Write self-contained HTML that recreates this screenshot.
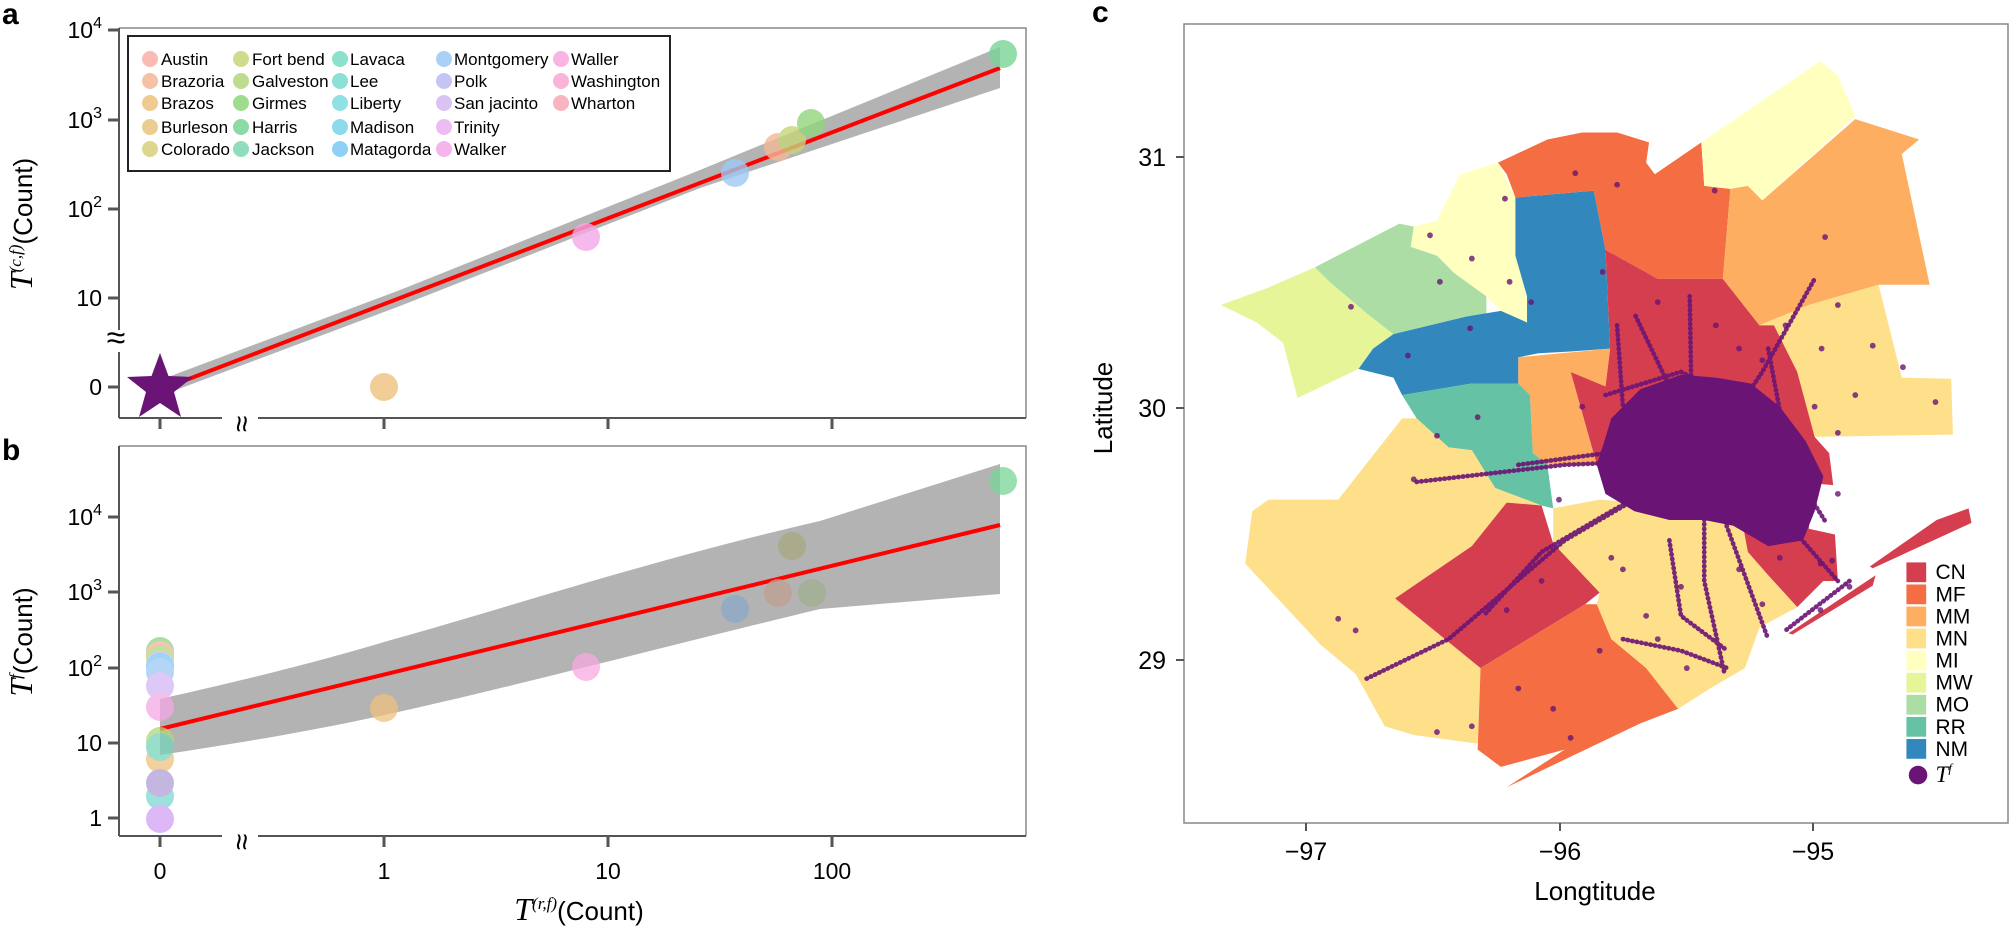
<!DOCTYPE html>
<html><head><meta charset="utf-8"><style>
html,body{margin:0;padding:0;background:#fff;}
svg{display:block;font-family:"Liberation Sans",Arial,sans-serif;}
</style></head><body>
<svg width="2011" height="930" viewBox="0 0 2011 930" xmlns="http://www.w3.org/2000/svg">
<!-- ============ PANEL A ============ -->
<text x="2" y="24" font-size="30" font-weight="bold">a</text>
<polyline points="119,28 1026,28 1026,418" fill="none" stroke="#888" stroke-width="1.5"/>
<line x1="119" y1="28" x2="119" y2="330" stroke="#555" stroke-width="2"/>
<line x1="119" y1="352" x2="119" y2="418" stroke="#555" stroke-width="2"/>
<line x1="119" y1="418" x2="222" y2="418" stroke="#555" stroke-width="2"/>
<line x1="258" y1="418" x2="1026" y2="418" stroke="#555" stroke-width="2"/>
<g stroke="#555" stroke-width="3">
<line x1="108" y1="30" x2="119" y2="30"/><line x1="108" y1="120" x2="119" y2="120"/>
<line x1="108" y1="209" x2="119" y2="209"/><line x1="108" y1="298" x2="119" y2="298"/>
<line x1="108" y1="387" x2="119" y2="387"/>
<line x1="160" y1="418" x2="160" y2="429"/><line x1="384" y1="418" x2="384" y2="429"/>
<line x1="608" y1="418" x2="608" y2="429"/><line x1="832" y1="418" x2="832" y2="429"/>
</g>
<g font-size="23" text-anchor="end">
<text x="102" y="38">10<tspan font-size="16" dy="-10">4</tspan></text>
<text x="102" y="128">10<tspan font-size="16" dy="-10">3</tspan></text>
<text x="102" y="217">10<tspan font-size="16" dy="-10">2</tspan></text>
<text x="102" y="306">10</text>
<text x="102" y="395">0</text>
</g>
<text x="116" y="349" font-size="34" text-anchor="middle">≈</text>
<text x="240" y="432" font-size="30" text-anchor="middle" transform="rotate(90 240 424)">≈</text>
<text transform="translate(32 224) rotate(-90)" font-size="26" text-anchor="middle"><tspan font-family="Liberation Serif" font-style="italic" font-size="32">T</tspan><tspan font-size="17" dy="-11" font-family="Liberation Serif" font-style="italic">(c,f)</tspan><tspan dy="11">(Count)</tspan></text>
<path d="M160,380 L400,290 L700,170 L1000,47 L1000,88 L700,188 L400,306 L160,396 Z" fill="#b3b3b3"/>
<line x1="160" y1="390" x2="1000" y2="68" stroke="#ff0000" stroke-width="4"/>
<g opacity="0.8">
<circle cx="586" cy="237" r="14" fill="#f4a8e8"/>
<circle cx="735" cy="173" r="14" fill="#9cc8f4"/>
<circle cx="778" cy="147" r="14" fill="#f4b896"/>
<circle cx="792" cy="140" r="14" fill="#c8d57a"/>
<circle cx="811" cy="123" r="14" fill="#8fd67a"/>
<circle cx="1003" cy="54" r="14" fill="#78d496"/>
<circle cx="384" cy="387" r="14" fill="#eec27e"/>
</g>
<polygon points="160,353 168.5,376 193,377 174,392 181,417 160,403 139,417 146,392 127,377 151.5,376" fill="#6a1475"/>
<rect x="128" y="36" width="542" height="135" fill="#fff" stroke="#222" stroke-width="2"/>
<g font-size="17">
<g opacity="0.85">
<circle cx="150" cy="59" r="8" fill="#f8b0a8"/><circle cx="150" cy="81" r="8" fill="#f4b896"/><circle cx="150" cy="103" r="8" fill="#eec27e"/><circle cx="150" cy="127" r="8" fill="#e6c67c"/><circle cx="150" cy="149" r="8" fill="#d9cf78"/>
<circle cx="241" cy="59" r="8" fill="#c8d57a"/><circle cx="241" cy="81" r="8" fill="#b2d67a"/><circle cx="241" cy="103" r="8" fill="#8fd67a"/><circle cx="241" cy="127" r="8" fill="#78d496"/><circle cx="241" cy="149" r="8" fill="#7cd8b0"/>
<circle cx="340" cy="59" r="8" fill="#78dcc4"/><circle cx="340" cy="81" r="8" fill="#78dcd0"/><circle cx="340" cy="103" r="8" fill="#7cdce0"/><circle cx="340" cy="127" r="8" fill="#78d4ec"/><circle cx="340" cy="149" r="8" fill="#7cc8f4"/>
<circle cx="444" cy="59" r="8" fill="#9cc8f4"/><circle cx="444" cy="81" r="8" fill="#bcbcf4"/><circle cx="444" cy="103" r="8" fill="#d4b8f4"/><circle cx="444" cy="127" r="8" fill="#ecb0f0"/><circle cx="444" cy="149" r="8" fill="#f4a8e8"/>
<circle cx="561" cy="59" r="8" fill="#f8a8e0"/><circle cx="561" cy="81" r="8" fill="#f8a8d0"/><circle cx="561" cy="103" r="8" fill="#f8a8b4"/>
</g>
<text x="161" y="65">Austin</text><text x="161" y="87">Brazoria</text><text x="161" y="109">Brazos</text><text x="161" y="133">Burleson</text><text x="161" y="155">Colorado</text>
<text x="252" y="65">Fort bend</text><text x="252" y="87">Galveston</text><text x="252" y="109">Girmes</text><text x="252" y="133">Harris</text><text x="252" y="155">Jackson</text>
<text x="350" y="65">Lavaca</text><text x="350" y="87">Lee</text><text x="350" y="109">Liberty</text><text x="350" y="133">Madison</text><text x="350" y="155">Matagorda</text>
<text x="454" y="65">Montgomery</text><text x="454" y="87">Polk</text><text x="454" y="109">San jacinto</text><text x="454" y="133">Trinity</text><text x="454" y="155">Walker</text>
<text x="571" y="65">Waller</text><text x="571" y="87">Washington</text><text x="571" y="109">Wharton</text>
</g>

<!-- ============ PANEL B ============ -->
<text x="2" y="460" font-size="30" font-weight="bold">b</text>
<polyline points="119,446 1026,446 1026,836" fill="none" stroke="#888" stroke-width="1.5"/>
<line x1="119" y1="446" x2="119" y2="836" stroke="#555" stroke-width="2"/>
<line x1="119" y1="836" x2="222" y2="836" stroke="#555" stroke-width="2"/>
<line x1="258" y1="836" x2="1026" y2="836" stroke="#555" stroke-width="2"/>
<g stroke="#555" stroke-width="3">
<line x1="108" y1="517" x2="119" y2="517"/><line x1="108" y1="592" x2="119" y2="592"/>
<line x1="108" y1="668" x2="119" y2="668"/><line x1="108" y1="743" x2="119" y2="743"/>
<line x1="108" y1="818" x2="119" y2="818"/>
<line x1="160" y1="836" x2="160" y2="847"/><line x1="384" y1="836" x2="384" y2="847"/>
<line x1="608" y1="836" x2="608" y2="847"/><line x1="832" y1="836" x2="832" y2="847"/>
</g>
<g font-size="23" text-anchor="end">
<text x="102" y="525">10<tspan font-size="16" dy="-10">4</tspan></text>
<text x="102" y="600">10<tspan font-size="16" dy="-10">3</tspan></text>
<text x="102" y="676">10<tspan font-size="16" dy="-10">2</tspan></text>
<text x="102" y="751">10</text>
<text x="102" y="826">1</text>
</g>
<g font-size="23" text-anchor="middle">
<text x="160" y="879">0</text><text x="384" y="879">1</text><text x="608" y="879">10</text><text x="832" y="879">100</text>
</g>
<text x="240" y="850" font-size="30" text-anchor="middle" transform="rotate(90 240 842)">≈</text>
<text transform="translate(32 642) rotate(-90)" font-size="26" text-anchor="middle"><tspan font-family="Liberation Serif" font-style="italic" font-size="32">T</tspan><tspan font-size="17" dy="-11" font-family="Liberation Serif" font-style="italic">f</tspan><tspan dy="11">(Count)</tspan></text>
<text x="579" y="920" font-size="26" text-anchor="middle"><tspan font-family="Liberation Serif" font-style="italic" font-size="32">T</tspan><tspan font-size="17" dy="-11" font-family="Liberation Serif" font-style="italic">(r,f)</tspan><tspan dy="11">(Count)</tspan></text>
<path d="M160,699 C280,672 340,655 384,642 C500,610 650,560 820,521 L1000,464 L1000,594 L820,609 C650,650 500,690 384,715 C330,727 260,740 160,755 Z" fill="#b3b3b3"/>
<line x1="160" y1="729" x2="1000" y2="525" stroke="#ff0000" stroke-width="4"/>
<g opacity="0.75">
<circle cx="160" cy="651" r="14" fill="#8fd67a"/>
<circle cx="160" cy="655" r="14" fill="#f8b0a8"/>
<circle cx="160" cy="659" r="14" fill="#b2d67a"/>
<circle cx="160" cy="665" r="14" fill="#bcbcf4"/>
<circle cx="160" cy="667" r="14" fill="#7cc8f4"/>
<circle cx="160" cy="672" r="14" fill="#9cc8f4"/>
<circle cx="160" cy="686" r="14" fill="#d4b8f4"/>
<circle cx="160" cy="707" r="14" fill="#f4a8e8"/>
<circle cx="160" cy="759" r="14" fill="#eec27e"/>
<circle cx="160" cy="741" r="14" fill="#b2d67a"/>
<circle cx="160" cy="747" r="14" fill="#78d4ba"/>
<circle cx="160" cy="796" r="14" fill="#7cd8d0"/>
<circle cx="160" cy="783" r="14" fill="#b0a0d8"/>
<circle cx="160" cy="819" r="14" fill="#d4a0f4"/>
<circle cx="384" cy="708" r="14" fill="#eec27e"/>
<circle cx="586" cy="667" r="14" fill="#f8a8e0"/>
<circle cx="735" cy="609" r="14" fill="#8aa8c8"/>
<circle cx="778" cy="593" r="14" fill="#c0a090"/>
<circle cx="792" cy="546" r="14" fill="#a8a880"/>
<circle cx="812" cy="593" r="14" fill="#a0b090"/>
<circle cx="1003" cy="481" r="14" fill="#78d496"/>
</g>

<!-- ============ PANEL C ============ -->
<text x="1092" y="22" font-size="30" font-weight="bold">c</text>
<rect x="1184" y="24" width="824" height="799" fill="none" stroke="#888" stroke-width="1.5"/>
<g stroke="#555" stroke-width="2">
<line x1="1176" y1="157" x2="1184" y2="157"/><line x1="1176" y1="408" x2="1184" y2="408"/><line x1="1176" y1="660" x2="1184" y2="660"/>
<line x1="1306" y1="823" x2="1306" y2="831"/><line x1="1560" y1="823" x2="1560" y2="831"/><line x1="1813" y1="823" x2="1813" y2="831"/>
</g>
<g font-size="25" text-anchor="end">
<text x="1166" y="166">31</text><text x="1166" y="417">30</text><text x="1166" y="669">29</text>
</g>
<g font-size="25" text-anchor="middle">
<text x="1306" y="860">−97</text><text x="1560" y="860">−96</text><text x="1813" y="860">−95</text>
<text x="1595" y="900" font-size="26">Longtitude</text>
</g>
<text transform="translate(1112 408) rotate(-90)" font-size="26" text-anchor="middle">Latitude</text>
<g transform="translate(1100 0) scale(0.581)">
<polygon fill="#e6f598" points="208,525 290,495 370,460 395,485 460,540 505,575 470,600 445,635 340,685 315,590 270,555"/>
<polygon fill="#abdda4" points="370,460 515,385 540,390 535,425 580,440 610,470 665,510 665,540 630,545 505,575 460,540 395,485"/>
<polygon fill="#ffffbf" points="535,425 540,390 580,380 620,300 685,280 715,340 715,440 735,510 755,520 735,555 690,535 665,510 610,470 580,440"/>
<polygon fill="#3288bd" points="715,340 850,328 870,430 878,600 810,605 755,608 720,615 720,660 690,660 640,660 520,680 505,650 445,635 470,600 505,575 630,545 690,535 735,555 735,510 715,440"/>
<polygon fill="#f46d43" points="685,280 770,240 830,228 890,228 945,245 940,280 955,300 1035,245 1040,320 1085,325 1072,480 960,480 870,430 850,328 715,340 700,300"/>
<polygon fill="#ffffbf" points="1035,245 1240,105 1270,130 1300,200 1140,345 1115,320 1085,325 1040,320"/>
<polygon fill="#fdae61" points="1085,325 1115,320 1140,345 1300,205 1410,240 1380,265 1428,490 1340,490 1220,525 1135,560 1072,480"/>
<polygon fill="#fee08b" points="1135,560 1220,525 1340,490 1380,650 1465,652 1468,748 1230,752 1200,640 1160,560"/>
<polygon fill="#d53e4f" points="870,430 960,480 1072,480 1135,560 1160,560 1200,640 1230,752 1255,780 1262,835 1205,830 1225,860 1220,910 1265,920 1270,1000 1245,1000 1200,1045 1150,990 1115,950 1100,870 1000,870 900,860 855,800 810,640 870,665 878,600"/>
<polygon fill="#fdae61" points="720,615 878,600 870,665 810,640 855,800 820,800 770,800 745,780 740,680 720,660"/>
<polygon fill="#66c2a5" points="520,680 640,660 720,660 740,680 745,780 770,800 780,875 760,870 680,840 640,775 600,770 545,720"/>
<polygon fill="#fee08b" points="545,720 600,770 640,775 680,840 760,870 700,870 640,940 508,1030 655,1150 650,1280 540,1265 490,1250 440,1160 380,1110 250,970 262,880 290,860 410,860 520,720"/>
<polygon fill="#d53e4f" points="508,1030 640,940 700,865 760,870 780,935 860,1020 835,1040 655,1150"/>
<polygon fill="#fee08b" points="780,875 860,860 1000,870 1100,870 1115,950 1150,990 1200,1045 1135,1080 1110,1150 1050,1185 995,1220 940,1150 880,1100 855,1040 860,1020 780,935"/>
<polygon fill="#f46d43" points="655,1150 835,1040 855,1040 880,1100 940,1150 995,1220 930,1245 700,1355 800,1290 690,1320 650,1290"/>
<polygon fill="#d53e4f" points="1185,1090 1335,990 1330,1008 1192,1092"/>
<polygon fill="#d53e4f" points="1325,975 1440,895 1495,875 1500,900 1330,978"/>
<g fill="none" stroke="#6a1475" stroke-linecap="round" stroke-width="8" stroke-dasharray="1 7" opacity="0.9">
<polyline points="1040,790 1140,640 1230,480"/>
<polyline points="1040,790 800,930 600,1100 455,1170"/>
<polyline points="1040,790 800,800 540,830"/>
<polyline points="1040,790 1040,1000 1075,1160"/>
<polyline points="1020,790 1015,510"/>
<polyline points="1040,790 880,880 760,950 660,1060"/>
<polyline points="1040,790 1200,920 1270,1000"/>
<polyline points="1290,1000 1180,1085"/>
<polyline points="1040,790 920,540"/>
<polyline points="1040,800 1150,1100"/>
<polyline points="900,1100 1000,1120 1080,1150"/>
<polyline points="870,680 1000,640 1120,700"/>
<polyline points="890,560 900,700"/>
<polyline points="1150,600 1180,760"/>
<polyline points="720,800 870,780"/>
<polyline points="980,930 1000,1060 1080,1120"/>
<polyline points="1200,820 1250,900"/>
</g>
<path d="M880,720 L930,670 L1000,645 L1060,650 L1120,660 L1170,700 L1215,760 L1245,820 L1230,880 L1210,930 L1150,940 L1090,905 L1040,895 L980,895 L920,880 L870,850 L855,800 L868,760 Z" fill="#6a1475"/>
<g fill="#6a1475" opacity="0.8">
<circle cx="818" cy="298" r="5"/><circle cx="890" cy="318" r="5"/><circle cx="697" cy="342" r="5"/><circle cx="568" cy="405" r="5"/><circle cx="640" cy="445" r="5"/><circle cx="585" cy="485" r="5"/><circle cx="432" cy="528" r="5"/><circle cx="705" cy="485" r="5"/><circle cx="742" cy="520" r="5"/><circle cx="865" cy="468" r="5"/><circle cx="637" cy="565" r="5"/><circle cx="530" cy="612" r="5"/><circle cx="1248" cy="408" r="5"/><circle cx="1270" cy="525" r="5"/><circle cx="1242" cy="600" r="5"/><circle cx="1330" cy="595" r="5"/><circle cx="1382" cy="632" r="5"/><circle cx="1438" cy="692" r="5"/><circle cx="1300" cy="680" r="5"/><circle cx="1270" cy="745" r="5"/><circle cx="1058" cy="328" r="5"/><circle cx="650" cy="718" r="5"/><circle cx="580" cy="750" r="5"/><circle cx="540" cy="825" r="5"/><circle cx="410" cy="1065" r="5"/><circle cx="440" cy="1085" r="5"/><circle cx="720" cy="1185" r="5"/><circle cx="780" cy="1220" r="5"/><circle cx="640" cy="1250" r="5"/><circle cx="580" cy="1260" r="5"/><circle cx="940" cy="1060" r="5"/><circle cx="1140" cy="1040" r="5"/><circle cx="900" cy="980" r="5"/><circle cx="1000" cy="1010" r="5"/><circle cx="860" cy="1120" r="5"/><circle cx="1010" cy="1150" r="5"/><circle cx="1290" cy="1010" r="5"/><circle cx="1240" cy="1050" r="5"/><circle cx="810" cy="1270" r="5"/><circle cx="700" cy="1050" r="5"/><circle cx="760" cy="1000" r="5"/><circle cx="1170" cy="960" r="5"/><circle cx="1240" cy="970" r="5"/><circle cx="1260" cy="965" r="5"/>
<circle cx="1180" cy="560" r="5"/><circle cx="1100" cy="600" r="5"/><circle cx="960" cy="520" r="5"/><circle cx="830" cy="700" r="5"/><circle cx="790" cy="860" r="5"/><circle cx="1270" cy="850" r="5"/><circle cx="1100" cy="980" r="5"/><circle cx="960" cy="1100" r="5"/><circle cx="880" cy="960" r="5"/><circle cx="1230" cy="700" r="5"/><circle cx="1140" cy="620" r="5"/><circle cx="1060" cy="560" r="5"/>
</g>
<g font-size="36">
<rect x="1388" y="968" width="34" height="34" fill="#d53e4f"/>
<rect x="1388" y="1006" width="34" height="34" fill="#f46d43"/>
<rect x="1388" y="1044" width="34" height="34" fill="#fdae61"/>
<rect x="1388" y="1082" width="34" height="34" fill="#fee08b"/>
<rect x="1388" y="1120" width="34" height="34" fill="#ffffbf"/>
<rect x="1388" y="1158" width="34" height="34" fill="#e6f598"/>
<rect x="1388" y="1196" width="34" height="34" fill="#abdda4"/>
<rect x="1388" y="1234" width="34" height="34" fill="#66c2a5"/>
<rect x="1388" y="1272" width="34" height="34" fill="#3288bd"/>
<circle cx="1408" cy="1334" r="16" fill="#6a1475"/>
<text x="1438" y="997">CN</text><text x="1438" y="1035">MF</text><text x="1438" y="1073">MM</text><text x="1438" y="1111">MN</text><text x="1438" y="1149">MI</text><text x="1438" y="1187">MW</text><text x="1438" y="1225">MO</text><text x="1438" y="1263">RR</text><text x="1438" y="1301">NM</text>
<text x="1438" y="1346" font-family="Liberation Serif" font-style="italic" font-size="40">T<tspan font-size="22" dy="-16">f</tspan></text>
</g>
</g>
</svg>
</body></html>
